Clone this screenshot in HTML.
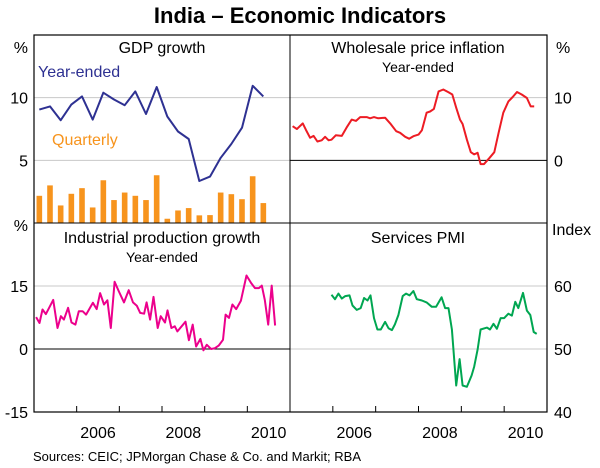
<!DOCTYPE html>
<html><head><meta charset="utf-8"><style>
body{margin:0;background:#fff;}
svg{display:block;font-family:"Liberation Sans",Arial,sans-serif;}
</style></head><body>
<svg id="c" width="600" height="468" viewBox="0 0 600 468">
<text x="300" y="23" text-anchor="middle" font-size="22" font-weight="bold">India – Economic Indicators</text>
</svg>
<script>
// GDP (quarterly)
const gdpDates=[2005.125,2005.375,2005.625,2005.875,2006.125,2006.375,2006.625,2006.875,2007.125,2007.375,2007.625,2007.875,2008.125,2008.375,2008.625,2008.875,2009.125,2009.375,2009.625,2009.875,2010.125,2010.375];
const gdpYearEnded=[9.05,9.3,8.2,9.45,10.1,8.25,10.4,9.85,9.4,10.5,8.7,10.85,8.5,7.3,6.7,3.35,3.7,5.2,6.3,7.6,10.95,10.1];
const gdpQuarterly=[2.17,3.0,1.4,2.33,2.78,1.24,3.41,1.83,2.43,2.17,1.83,3.81,0.34,1.0,1.19,0.61,0.63,2.43,2.3,1.9,3.73,1.59];
// Wholesale price inflation
const wpiDates=[.06,.16,.30,.37,.47,.55,.64,.74,.82,.90,.97,1.07,1.21,1.32,1.44,1.54,1.64,1.79,1.87,1.96,2.06,2.22,2.34,2.48,2.57,2.69,2.78,2.88,3.00,3.08,3.19,3.27,3.36,3.47,3.58,3.70,3.79,3.88,3.97,4.03,4.13,4.22,4.30,4.38,4.45,4.53,4.66,4.77,4.87,4.98,5.10,5.20,5.30,5.41,5.53,5.62,5.70];
const wpiValues=[5.45,5.0,5.9,4.9,3.6,3.9,3.0,3.2,3.75,3.2,3.3,4.0,3.9,5.2,6.5,6.3,6.9,6.9,6.7,6.9,6.7,6.8,5.9,4.65,4.4,3.75,3.45,3.85,4.1,4.8,7.6,7.8,8.2,11.0,11.3,10.85,10.5,8.4,6.5,5.8,3.3,1.3,0.95,1.2,-0.6,-0.6,0.4,1.3,4.4,7.6,9.4,10.1,10.9,10.5,9.95,8.6,8.6];
// Industrial production
const ipDates=[.05,.13,.20,.28,.45,.55,.63,.70,.80,.88,.97,1.05,1.14,1.22,1.38,1.47,1.55,1.64,1.72,1.80,1.89,1.99,2.11,2.22,2.32,2.41,2.49,2.58,2.64,2.72,2.80,2.90,2.97,3.07,3.13,3.22,3.30,3.36,3.55,3.63,3.72,3.80,3.90,3.97,4.05,4.15,4.24,4.33,4.43,4.49,4.57,4.65,4.74,4.85,4.98,5.09,5.18,5.27,5.34,5.41,5.49,5.57,5.65];
const ipValues=[7.6,6.2,9.4,8.3,11.7,5.0,7.8,7.0,9.8,6.3,5.8,9.0,9.0,8.2,11.0,9.5,13.3,10.6,11.6,5.0,16.0,13.7,11.1,14.0,11.1,10.3,8.6,8.4,11.1,7.0,12.4,5.0,7.8,6.3,9.2,5.0,5.4,4.2,6.5,2.1,5.8,0.6,2.4,-0.3,1.0,0,0.2,0.8,2.2,8.2,7.4,10.6,9.5,11.5,17.5,15.7,14.5,14.5,15.1,11.7,5.8,15.1,5.6];
// Services PMI
const pmiDates=[.97,1.05,1.13,1.21,1.29,1.39,1.46,1.56,1.65,1.73,1.81,1.88,1.96,2.04,2.12,2.22,2.30,2.38,2.45,2.53,2.63,2.71,2.79,2.88,2.96,3.08,3.19,3.31,3.41,3.54,3.62,3.70,3.78,3.88,3.96,4.03,4.13,4.24,4.30,4.38,4.45,4.60,4.67,4.75,4.83,4.92,5.00,5.10,5.18,5.26,5.33,5.44,5.53,5.61,5.69,5.76];
const pmiValues=[58.6,57.9,58.8,58.0,58.4,58.5,56.9,56.2,56.5,58.1,57.7,58.5,54.9,53.1,53.1,54.3,53.3,53.0,53.9,55.4,58.4,58.8,58.5,59.2,57.9,57.7,57.4,56.7,56.7,58.2,56.5,56.5,53.1,44.2,48.4,44.2,44.0,45.8,47.2,49.9,53.1,53.4,53.1,54.0,53.2,54.9,54.9,55.6,55.3,57.5,56.5,58.9,56.1,55.4,52.7,52.4];
const years=[2006,2007,2008,2009,2010];
const yearLabels=["2006","2008","2010"];

const NS="http://www.w3.org/2000/svg";
const svg=document.getElementById('c');
function mk(t,a,p){const e=document.createElementNS(NS,t);for(const k in a)e.setAttribute(k,a[k]);(p||svg).appendChild(e);return e;}
const L=34,M=290,R=547,T=35,MID=223,B=412;
function xs(x0,x1){return d=>x0+(d-2005)/6*(x1-x0);}
function ys(y0,y1,v0,v1){return v=>y1-(v-v0)/(v1-v0)*(y1-y0);}
const xL=xs(L,M), xR=xs(M,R);
const yGdp=ys(T,MID,0,15), yWpi=ys(T,MID,-10,20), yIp=ys(MID,B,-15,30), yPmi=ys(MID,B,40,70);

function hline(x0,x1,y,col,name){const e=mk('line',{x1:x0,x2:x1,y1:y,y2:y,stroke:col,'stroke-width':1});

}
// gridlines
hline(L,M,yGdp(5),'#c8c8c8','gdp-gridline-5');hline(L,M,yGdp(10),'#c8c8c8','gdp-gridline-10');
hline(M,R,yWpi(10),'#c8c8c8','wpi-gridline-10');hline(M,R,yWpi(0),'#000','wpi-zero-line');
hline(L,M,yIp(15),'#c8c8c8','ip-gridline-15');hline(L,M,yIp(0),'#000','ip-zero-line');
hline(M,R,yPmi(60),'#c8c8c8','pmi-gridline-60');hline(M,R,yPmi(50),'#c8c8c8','pmi-gridline-50');

// ticks
years.forEach(y=>{
  [xL(y),xR(y)].forEach(x=>{
    const t=mk('line',{x1:x,x2:x,y1:B,y2:B-6,stroke:'#000'});
    
    
  });
});

// GDP bars
gdpDates.forEach((d,i)=>{
  const x=xL(d), y=yGdp(gdpQuarterly[i]);
  const b=mk('rect',{x:x-2.8,y:y,width:5.6,height:yGdp(0)-y,fill:'#f7941d'});
  
  
});
function line(dates,vals,xf,yf,col,name,off){
  const pts=dates.map((d,i)=>xf(d+(off||0)).toFixed(1)+','+yf(vals[i]).toFixed(1)).join(' ');
  const p=mk('polyline',{points:pts,fill:'none',stroke:col,'stroke-width':2,'stroke-linejoin':'round'});
  
  
}
line(gdpDates,gdpYearEnded,xL,yGdp,'#2e3192','gdp-year-ended-line');
line(wpiDates,wpiValues,xR,yWpi,'#ed1c24','wpi-line',2005);
line(ipDates,ipValues,xL,yIp,'#ec008c','ip-line',2005);
line(pmiDates,pmiValues,xR,yPmi,'#00a651','pmi-line',2005);

// frame
const f=mk('rect',{x:L,y:T,width:R-L,height:B-T,fill:'none',stroke:'#000','stroke-width':1.2});


hline(L,R,MID,'#000','panel-divider-horizontal');
const v=mk('line',{x1:M,x2:M,y1:T,y2:B,stroke:'#000'});



function txt(x,y,s,opts,name){const e=mk('text',Object.assign({x:x,y:y,'font-size':16},opts||{}));e.textContent=s;

return e;}
// y labels left
txt(28,53,'%',{'text-anchor':'end'},'gdp-unit-label');
txt(28,yGdp(10)+6,'10',{'text-anchor':'end'},'gdp-y-label-10');
txt(28,yGdp(5)+6,'5',{'text-anchor':'end'},'gdp-y-label-5');
txt(28,MID+8,'%',{'text-anchor':'end'},'ip-unit-label');
txt(28,yIp(15)+6,'15',{'text-anchor':'end'},'ip-y-label-15');
txt(28,yIp(0)+6,'0',{'text-anchor':'end'},'ip-y-label-0');
txt(28,B+6,'-15',{'text-anchor':'end'},'ip-y-label-neg15');
// right
txt(556,53,'%',{},'wpi-unit-label');
txt(554,yWpi(10)+6,'10',{},'wpi-y-label-10');
txt(554,yWpi(0)+6,'0',{},'wpi-y-label-0');
txt(552,MID+12,'Index',{},'pmi-unit-label');
txt(554,yPmi(60)+6,'60',{},'pmi-y-label-60');
txt(554,yPmi(50)+6,'50',{},'pmi-y-label-50');
txt(554,B+6,'40',{},'pmi-y-label-40');
// panel titles
txt(162,53,'GDP growth',{'text-anchor':'middle'},'gdp-panel-title');
txt(38,77,'Year-ended',{fill:'#2e3192'},'gdp-year-ended-legend');
txt(52,145,'Quarterly',{fill:'#f7941d'},'gdp-quarterly-legend');
txt(418,53,'Wholesale price inflation',{'text-anchor':'middle'},'wpi-panel-title');
txt(418,72,'Year-ended',{'text-anchor':'middle','font-size':14},'wpi-subtitle');
txt(162,243,'Industrial production growth',{'text-anchor':'middle'},'ip-panel-title');
txt(162,262,'Year-ended',{'text-anchor':'middle','font-size':14},'ip-subtitle');
txt(418,243,'Services PMI',{'text-anchor':'middle'},'pmi-panel-title');
// x labels
yearLabels.forEach(s=>{const y=+s;
  txt(xL(y+0.5),438,s,{'text-anchor':'middle'},'x-label-left-'+s);
  txt(xR(y+0.5),438,s,{'text-anchor':'middle'},'x-label-right-'+s);
});
txt(33,461,'Sources: CEIC; JPMorgan Chase & Co. and Markit; RBA',{'font-size':13},'sources-note');
</script>
</body></html>
